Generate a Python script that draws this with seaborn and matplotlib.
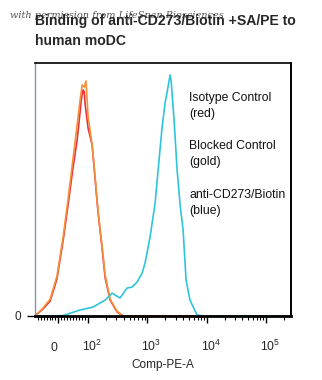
import numpy as np
import pandas as pd
import seaborn as sns
import matplotlib
matplotlib.use("Agg")
import matplotlib.pyplot as plt
from matplotlib import transforms

# Comp-PE-A intensities and % of max for each stained sample
iso_pe = [-79, -52, -28, -5, 16, 32, 49, 63, 73, 78, 83, 87, 90, 100, 117, 131, 147, 172, 194, 235, 308, 390, 264000]
iso_pct = [0, 2.9, 6.2, 15.4, 31.5, 45.6, 61.4, 73.0, 84.6, 90.5, 93.8, 93.0, 88.0, 78.0, 71.0, 57.3, 43.2, 28.2, 15.8, 6.6, 1.7, 0, 0]

blk_pe = [-79, -52, -28, -5, 16, 32, 49, 63, 73, 80, 87, 93, 100, 117, 131, 147, 172, 194, 235, 308, 390, 264000]
blk_pct = [0, 3.3, 7.0, 16.5, 33.0, 48.0, 65.0, 79.3, 89.6, 95.9, 95.0, 97.5, 83.0, 71.0, 58.0, 44.0, 29.0, 17.0, 7.0, 2.0, 0, 0]

cd273_pe = [-79, -22, 16, 73, 121, 159, 194, 254, 285, 346, 454, 552, 671, 815, 914, 1110, 1350, 1517,
            1771, 1987, 2150, 2415, 2510, 2820, 3170, 3560, 4000, 4490, 5230, 6880, 9400, 264000]
cd273_pct = [0, 0, 0.2, 2.5, 3.7, 5.4, 6.6, 9.5, 8.7, 7.5, 11.6, 12.0, 14.1, 17.8, 22.0, 32.8, 46.9, 60.6,
             78.4, 88.4, 92.9, 100, 97.9, 81.3, 60.6, 46.1, 35.7, 14.9, 6.6, 0.4, 0, 0]

samples = ["Isotype Control", "Blocked Control", "anti-CD273/Biotin"]
colors = ["#e8313a", "#f4913a", "#2ec5dc"]

tick_vals = [0, 100, 1000, 10000, 100000]
tick_labels = ["0", "$10^{2}$", "$10^{3}$", "$10^{4}$", "$10^{5}$"]

legend_lines = ["Isotype Control\n(red)", "Blocked Control\n(gold)", "anti-CD273/Biotin\n(blue)"]

df = pd.concat([
    pd.DataFrame({"pe": iso_pe, "pct": iso_pct, "sample": samples[0]}),
    pd.DataFrame({"pe": blk_pe, "pct": blk_pct, "sample": samples[1]}),
    pd.DataFrame({"pe": cd273_pe, "pct": cd273_pct, "sample": samples[2]}),
], ignore_index=True)

sns.set_theme(style="white")
plt.rcParams["font.family"] = ["Liberation Sans", "DejaVu Sans"]
plt.rcParams["mathtext.default"] = "regular"

W, H = 322, 380
fig = plt.figure(figsize=(W / 100, H / 100), dpi=100)
ax = fig.add_axes([35 / W, 1 - 316 / H, 256 / W, 253 / H])

sns.lineplot(data=df, x="pe", y="pct", hue="sample", hue_order=samples,
             palette=dict(zip(samples, colors)), estimator=None, sort=False,
             linewidth=1.2, legend=False, ax=ax)

ax.set_xscale("symlog", linthresh=100, linscale=0.45)
ax.set_xlim(-79, 2.64e5)
ax.set_ylim(0, 105)

ax.set_xticks(tick_vals)
ax.set_xticklabels(tick_labels, fontsize=8.8)
minor = [v for v in range(-70, 0, 10)] + [v for v in range(10, 100, 10)]
for d in (100, 1000, 10000, 100000):
    minor += [k * d for k in range(2, 10) if k * d < 2.64e5]
ax.set_xticks(minor, minor=True)
ax.tick_params(axis="x", which="major", direction="out", length=5, width=1, color="black",
               pad=20, bottom=True)
ax.tick_params(axis="x", which="minor", direction="out", length=3, width=0.8, color="black",
               bottom=True)
for lab in ax.get_xticklabels():
    lab.set_va("baseline")
    dx = -4 if lab.get_text() == "0" else 4
    lab.set_transform(lab.get_transform() + transforms.ScaledTranslation(dx / 100, 0, fig.dpi_scale_trans))

ax.set_yticks([0])
ax.set_yticklabels(["0"], fontsize=8.5)
ax.tick_params(axis="y", direction="out", length=6, width=1, color="black", pad=4, left=True)

ax.set_xlabel("Comp-PE-A", fontsize=8.5, labelpad=4)
ax.set_ylabel("")

for side in ("top", "right", "bottom"):
    ax.spines[side].set_color("black")
ax.spines["top"].set_linewidth(1.2)
ax.spines["right"].set_linewidth(1.4)
ax.spines["bottom"].set_linewidth(2.0)
ax.spines["left"].set_color("#8795a0")
ax.spines["left"].set_linewidth(1.0)

tops = [92, 140, 189]
for txt, ty in zip(legend_lines, tops):
    ax.text((189 - 35) / 256, (316 - ty) / 253, txt, transform=ax.transAxes,
            fontsize=8.8, va="top", ha="left", linespacing=1.42, color="#111111")

fig.text(10 / W, 1 - 16 / H, "with permission from LifeSpan Biosciences", fontsize=7,
         family="DejaVu Serif", style="italic", color="#555555", va="center", ha="left", zorder=1)
fig.text(35 / W, 1 - 14.5 / H, "Binding of anti-CD273/Biotin +SA/PE to\nhuman moDC",
         fontsize=10.1, fontweight="bold", va="top", ha="left", linespacing=1.5, zorder=2)

fig.savefig("out.png", dpi=100, facecolor="white")
